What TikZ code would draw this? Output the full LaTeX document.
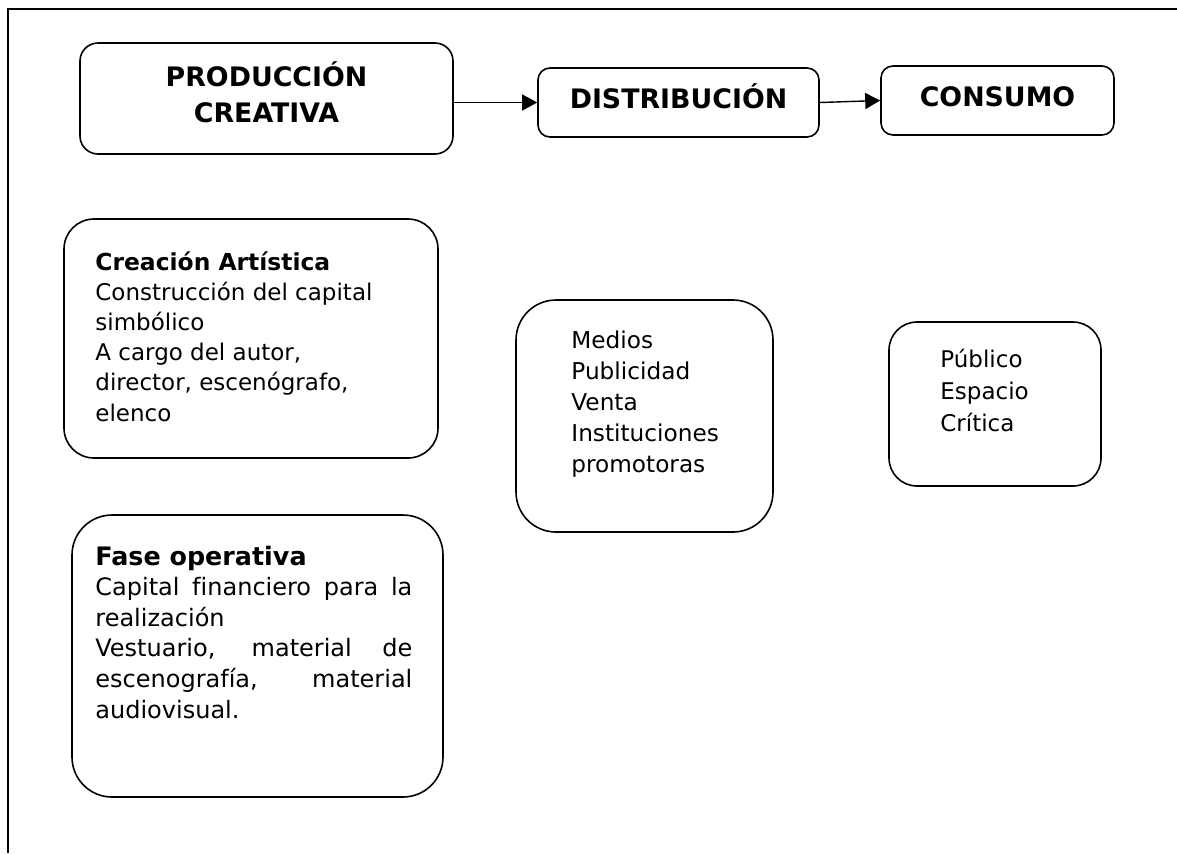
\documentclass[tikz,border=0pt]{standalone}
\usepackage{fontspec}
\setmainfont[Ligatures=CommonOff]{DejaVu Sans}
\usetikzlibrary{arrows.meta}

\begin{document}
\begin{tikzpicture}[x=0.5pt,y=-0.5pt,
  panel/.style={draw,line width=0.8pt,inner sep=0pt},
  headbox/.style={panel,font=\bfseries\fontsize{13.4pt}{18pt}\selectfont,align=center},
  flow/.style={line width=0.7pt,-{Triangle[length=7.5pt,width=8pt]}},
  blurb/.style={anchor=base west,inner sep=0pt}]
\useasboundingbox (0,0) rectangle (1177,853);
% frame, only left and top edge
\draw[line width=1pt] (8,853) -- (8,9) -- (1177,9);

% stages
\node[headbox,rounded corners=9pt,minimum width=186.5pt,minimum height=55.5pt] (prod) at (266.5,98.5) {PRODUCCIÓN\\CREATIVA\rule[-6pt]{0pt}{6pt}};
\node[headbox,rounded corners=6pt,minimum width=140.5pt,minimum height=34.5pt,text height=9pt,text depth=3pt] (dist) at (678.5,102.5) {DISTRIBUCIÓN};
\node[headbox,rounded corners=6pt,minimum width=116.5pt,minimum height=34.5pt,text height=9pt,text depth=3pt] (cons) at (997.5,100.5) {CONSUMO};
\draw[flow] (prod.east |- dist.west) -- (dist.west);
\draw[flow] (dist.east) -- (cons.west);

% detail boxes
\node[panel,rounded corners=15pt,minimum width=187pt,minimum height=119.5pt] (creacion) at (251,338.5) {};
\node[blurb,font=\fontsize{11.5pt}{15.1pt}\selectfont] (creaciontxt) at (95,270) {\parbox[t]{165pt}{{\bfseries\fontsize{11.7pt}{15.1pt}\selectfont Creación Artística}\\
  Construcción del capital\\
  simbólico\\
  A cargo del autor,\\
  director, escenógrafo,\\
  elenco}};

\node[panel,rounded corners=20pt,minimum width=128.5pt,minimum height=116pt] (medios) at (644.5,416) {};
\node[blurb,font=\fontsize{11.6pt}{15.6pt}\selectfont] (mediostxt) at (571,348) {\parbox[t]{90pt}{Medios\\
  Publicidad\\
  Venta\\
  Instituciones\\
  promotoras}};

\node[panel,rounded corners=14pt,minimum width=106pt,minimum height=82pt] (publico) at (995,404) {};
\node[blurb,font=\fontsize{11.5pt}{16.2pt}\selectfont] (publicotxt) at (940,367) {\parbox[t]{70pt}{Público\\
  Espacio\\
  Crítica}};

\node[panel,rounded corners=20pt,minimum width=185.5pt,minimum height=141pt] (fase) at (257.5,656) {};
\node[blurb,font=\fontsize{12pt}{15.3pt}\selectfont] (fasetxt) at (95,565) {\parbox[t]{158.5pt}{{\bfseries\fontsize{12.7pt}{15.3pt}\selectfont Fase operativa}\\
  \makebox[\linewidth][s]{Capital financiero para la}\\
  realización\\
  \makebox[\linewidth][s]{Vestuario, material de}\\
  \makebox[\linewidth][s]{escenografía, material}\\
  audiovisual.}};
\end{tikzpicture}
\end{document}
